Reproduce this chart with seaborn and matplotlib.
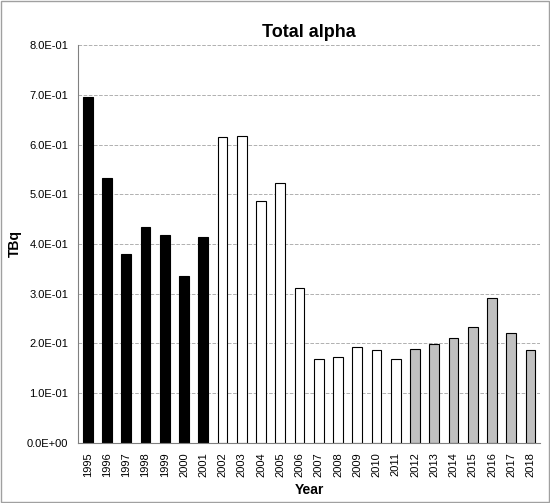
import matplotlib
matplotlib.use("Agg")
import matplotlib.pyplot as plt
import seaborn as sns
import pandas as pd

years = [str(y) for y in range(1995, 2019)]
values = [0.695, 0.533, 0.380, 0.435, 0.418, 0.335, 0.414,
          0.615, 0.617, 0.486, 0.522, 0.311, 0.168, 0.173, 0.192, 0.186, 0.168,
          0.188, 0.198, 0.211, 0.232, 0.291, 0.221, 0.187]
colors = ["black"] * 7 + ["white"] * 10 + ["#c0c0c0"] * 7

df = pd.DataFrame({"Year": years, "TBq": values})

sns.set_style("white")
plt.rcParams["font.family"] = ["Liberation Sans", "DejaVu Sans"]
plt.rcParams["text.color"] = "black"
plt.rcParams["axes.labelcolor"] = "black"
plt.rcParams["xtick.color"] = "black"
plt.rcParams["ytick.color"] = "black"
fig = plt.figure(figsize=(5.5, 5.03), dpi=100)
ax = fig.add_axes([0.142, 0.12, 0.84, 0.79])
ax.yaxis.grid(True, linestyle="--", color="#b0b0b0", linewidth=0.7)
ax.set_axisbelow(True)
sns.barplot(data=df, x="Year", y="TBq", palette=colors, hue="Year", legend=False,
            edgecolor="black", linewidth=0.8, width=0.5, ax=ax)
ax.set_ylim(0, 0.8)
ax.set_yticks([i / 10 for i in range(9)])
ax.set_yticklabels([f"{i:.1f}E-01" if i else "0.0E+00" for i in range(9)], fontsize=8)
ax.tick_params(axis="x", labelrotation=90, labelsize=8)
ax.set_xlabel("Year", fontsize=10, fontweight="bold")
ax.set_ylabel("TBq", fontsize=10, fontweight="bold")
ax.set_title("Total alpha", fontsize=13, fontweight="bold")
for s in ["top", "right"]:
    ax.spines[s].set_visible(False)
for s in ["left", "bottom"]:
    ax.spines[s].set_color("#808080")
fig.patches.append(plt.Rectangle((0.002, 0.002), 0.996, 0.996, transform=fig.transFigure,
                                 fill=False, edgecolor="#a0a0a0", linewidth=1))
fig.savefig("out.png", dpi=100)
